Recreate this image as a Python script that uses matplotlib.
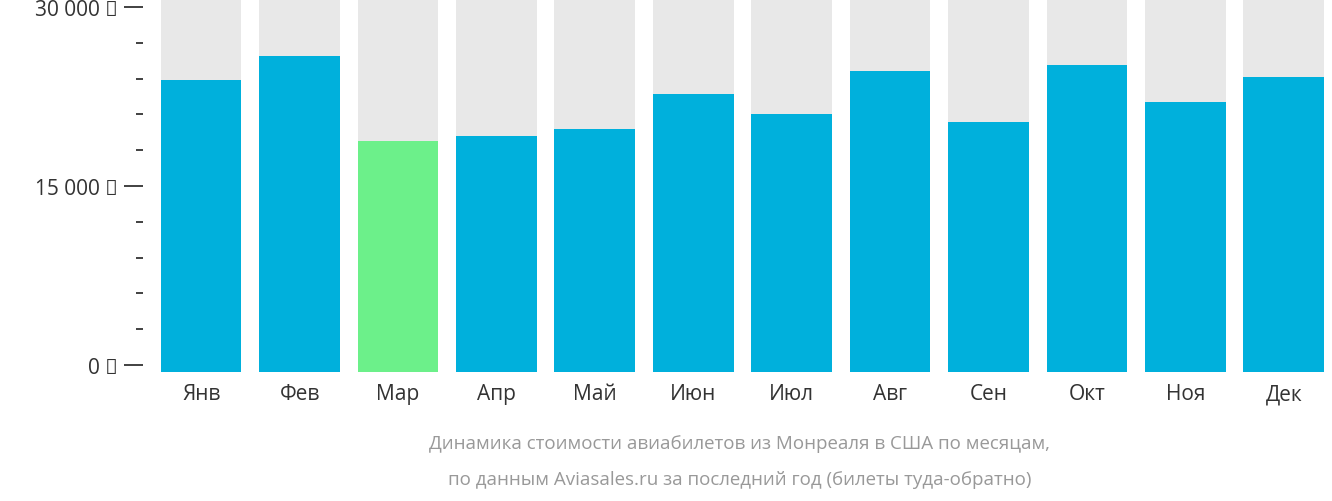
import matplotlib
matplotlib.use("Agg")
import matplotlib.pyplot as plt
from matplotlib.ticker import MultipleLocator

months = ["Янв","Фев","Мар","Апр","Май","Июн","Июл","Авг","Сен","Окт","Ноя","Дек"]
prices = [23900, 25900, 18800, 19200, 19800, 22700, 21000, 24600, 20400, 25100, 22000, 24100]
tick_vals = [0, 15000, 30000]
tick_labels = ["0 ₽", "15 000 ₽", "30 000 ₽"]

W, H = 1332, 502
fig = plt.figure(figsize=(W/100, H/100), dpi=100)
ax = fig.add_axes([152/W - 9/W, (H-373)/H, (1334-143)/W, 373/H])
ymin, ymax = -590, 30670
x = list(range(len(months)))
ax.bar(x, [ymax - ymin]*12, bottom=ymin, width=0.82, color="#e8e8e8")
cols = ["#6cf08a" if p == min(prices) else "#00b0dc" for p in prices]
ax.bar(x, [p - ymin for p in prices], bottom=ymin, width=0.82, color=cols)
ax.set_ylim(ymin, ymax)
ax.set_xlim(-0.5 - 0.09, 11.5 - 0.09 + 0.1)
for s in ax.spines.values():
    s.set_visible(False)
ax.set_yticks(tick_vals, tick_labels)
ax.yaxis.set_minor_locator(MultipleLocator(3000))
ax.tick_params(axis="y", which="major", length=14, width=1.3, color="#333333",
               labelsize=15, labelcolor="#333333", pad=4)
ax.tick_params(axis="y", which="minor", length=5, width=1.3, color="#333333")
ax.set_xticks(x, months)
ax.tick_params(axis="x", length=0, labelsize=15, labelcolor="#333333", pad=8)
for t in ax.get_xticklabels() + ax.get_yticklabels():
    t.set_fontfamily("Open Sans")
fig.text(0.555, 1 - 444/H, "Динамика стоимости авиабилетов из Монреаля в США по месяцам,",
         ha="center", va="center", fontsize=13.5, color="#999999", family="Open Sans")
fig.text(0.555, 1 - 480/H, "по данным Aviasales.ru за последний год (билеты туда-обратно)",
         ha="center", va="center", fontsize=13.5, color="#999999", family="Open Sans")
fig.savefig("out.png", dpi=100)
